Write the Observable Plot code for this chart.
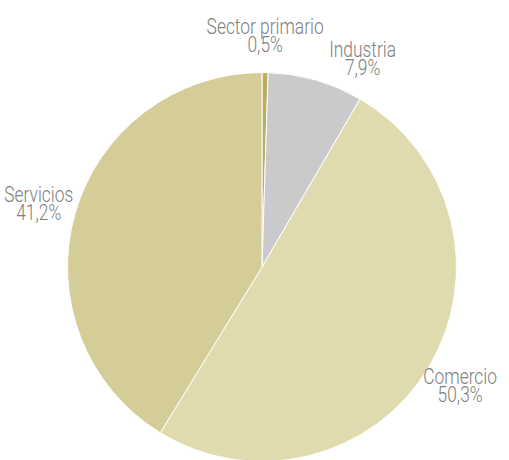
<!DOCTYPE html>
<html><head><meta charset="utf-8">
<script src="https://cdn.jsdelivr.net/npm/d3@7"></script>
<script src="https://cdn.jsdelivr.net/npm/@observablehq/plot@0.6"></script>
<style>body{margin:0;background:#fff}</style>
</head><body><div id="chart"></div>
<script>
const categories = ["Sector primario", "Industria", "Comercio", "Servicios"];
const values = [0.5, 7.9, 50.3, 41.2];
const valueLabels = ["0,5%", "7,9%", "50,3%", "41,2%"];
const colors = ["#bbad5c", "#cacacc", "#e0dbaf", "#d5cd98"];

const W = 509, H = 460, R = 194.5, cx = 262, cy = 267;
const labelRadius = 1.19;
const minSep = 25 * Math.PI / 180;
const condense = 0.79;

const data = categories.map((c, i) => ({name: c, value: values[i], label: valueLabels[i], color: colors[i]}));
const arcs = d3.pie().sort(null).value(d => d.value)(data);

// label positions (unit radius space) with simple angular collision avoidance
let prev = -Infinity;
const labelData = arcs.map(a => {
  let ang = (a.startAngle + a.endAngle) / 2;
  if (ang - prev < minSep) ang = prev + minSep;
  prev = ang;
  return {text: a.data.name + "\n" + a.data.label,
          lx: labelRadius * Math.sin(ang), ly: labelRadius * Math.cos(ang)};
});

const pieMark = (index, scales) => {
  const x = scales.x, y = scales.y;
  const ox = x(0), oy = y(0), r = x(1) - x(0);
  const arc = d3.arc().innerRadius(0).outerRadius(r);
  const g = d3.create("svg:g").attr("transform", `translate(${ox},${oy})`);
  g.selectAll("path").data(arcs).join("path")
    .attr("d", arc)
    .attr("fill", d => d.data.color)
    .attr("stroke", "#fff")
    .attr("stroke-width", 1)
    .attr("stroke-linejoin", "round");
  return g.node();
};

const font = "Roboto, 'Liberation Sans', sans-serif";
const plot = Plot.plot({
  width: W, height: H,
  margin: 0,
  x: {domain: [-cx / R, (W - cx) / R], range: [0, W], axis: null},
  y: {domain: [cy / R, -(H - cy) / R], range: [0, H], axis: null},
  style: {background: "#fff"},
  marks: [
    pieMark,
    Plot.text(labelData, {x: "lx", y: "ly", text: "text", dx: -1, dy: 1, lineHeight: 18 / 22,
      fontSize: 22, fontFamily: font, fontWeight: 300, fill: "#808080"})
  ]
});
// condensed look: squeeze label text horizontally around its anchor
plot.querySelectorAll("text").forEach(t => {
  const tx = +t.getAttribute("x") || 0, ty = +t.getAttribute("y") || 0;
  const tr = t.getAttribute("transform") || "";
  t.setAttribute("transform", `${tr} translate(${tx},${ty}) scale(${condense},1) translate(${-tx},${-ty})`);
});
document.getElementById("chart").appendChild(plot);
</script>
</body></html>
